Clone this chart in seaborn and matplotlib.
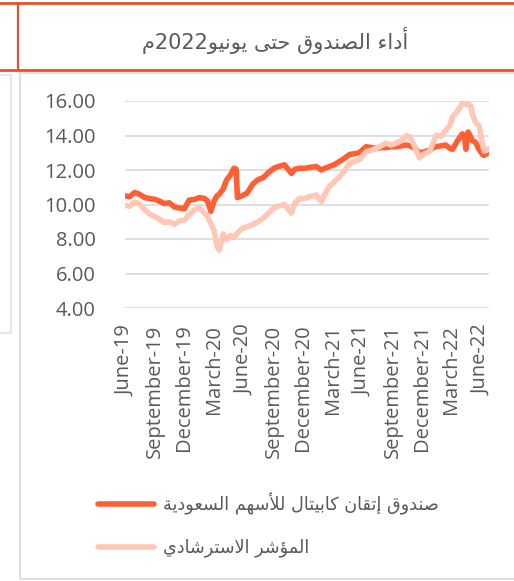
import re
import pandas as pd
import matplotlib
matplotlib.use("Agg")
import matplotlib.pyplot as plt
import matplotlib.dates as mdates
from matplotlib.lines import Line2D
from matplotlib.patches import Rectangle
import seaborn as sns

# values (NAV of fund vs benchmark)
dates = [
    "2019-06-01", "2019-06-15", "2019-07-01", "2019-07-15", "2019-08-01", "2019-08-15",
    "2019-09-01", "2019-09-15", "2019-10-01", "2019-10-15", "2019-11-01", "2019-11-15",
    "2019-12-01", "2019-12-15", "2020-01-01", "2020-01-15", "2020-02-01", "2020-02-10",
    "2020-02-20", "2020-03-01", "2020-03-10", "2020-03-17", "2020-03-29", "2020-04-08",
    "2020-04-20", "2020-05-01", "2020-05-08", "2020-05-12", "2020-05-25", "2020-06-10",
    "2020-06-29", "2020-07-15", "2020-07-30", "2020-08-15", "2020-09-01", "2020-09-15",
    "2020-10-04", "2020-10-25", "2020-11-05", "2020-11-19", "2020-12-05", "2020-12-20",
    "2021-01-10", "2021-01-25", "2021-02-05", "2021-02-19", "2021-03-05", "2021-03-22",
    "2021-04-08", "2021-04-22", "2021-05-08", "2021-05-22", "2021-06-12", "2021-06-28",
    "2021-07-13", "2021-07-28", "2021-08-12", "2021-08-28", "2021-09-12", "2021-09-28",
    "2021-10-13", "2021-10-25", "2021-11-05", "2021-11-23", "2021-12-08", "2021-12-23",
    "2022-01-05", "2022-01-13", "2022-01-28", "2022-02-12", "2022-02-25", "2022-03-05",
    "2022-03-20", "2022-04-04", "2022-04-10", "2022-04-15", "2022-04-22", "2022-04-30",
    "2022-05-05", "2022-05-15", "2022-05-25", "2022-06-05", "2022-06-10", "2022-06-18",
    "2022-06-25",
]
fund = [
    10.5, 10.45, 10.7, 10.6, 10.4, 10.35,
    10.3, 10.2, 10.05, 10.1, 9.85, 9.8,
    9.75, 10.25, 10.3, 10.4, 10.35, 10.2,
    9.6, 10.2, 10.5, 10.6, 10.9, 11.4,
    11.7, 12.1, 12.05, 10.4, 10.5, 10.65,
    11.2, 11.45, 11.55, 11.85, 12.1, 12.2,
    12.3, 11.8, 12.05, 12.1, 12.1, 12.15,
    12.2, 12.0, 12.1, 12.2, 12.3, 12.5,
    12.7, 12.9, 12.95, 13.0, 13.35, 13.3,
    13.25, 13.3, 13.3, 13.35, 13.35, 13.4,
    13.45, 13.4, 13.3, 13.0, 13.05, 13.15,
    13.3, 13.35, 13.4, 13.45, 13.25, 13.2,
    13.7, 14.1, 14.0, 13.2, 14.2, 13.9,
    13.7, 13.6, 13.2, 12.9, 12.85, 12.95,
    13.05,
]
benchmark = [
    9.95, 9.9, 10.15, 10.05, 9.7, 9.45,
    9.3, 9.15, 8.95, 9.0, 8.85, 9.05,
    9.1, 9.4, 9.7, 9.8, 9.5, 9.3,
    8.9, 8.5, 7.6, 7.35, 8.3, 7.95,
    8.2, 8.1, 8.25, 8.35, 8.6, 8.7,
    8.85, 9.0, 9.2, 9.5, 9.8, 9.9,
    10.0, 9.5, 10.1, 10.35, 10.35, 10.45,
    10.55, 10.15, 10.6, 11.05, 11.3, 11.6,
    12.0, 12.4, 12.5, 12.6, 13.05, 13.15,
    13.25, 13.4, 13.55, 13.45, 13.55, 13.7,
    14.0, 13.9, 13.5, 12.7, 12.95, 13.05,
    13.6, 14.0, 13.95, 14.3, 14.6, 15.1,
    15.4, 15.85, 15.9, 15.8, 15.85, 15.7,
    15.2, 14.75, 14.6, 13.5, 13.1, 13.15,
    13.25,
]

title_text = "أداء الصندوق حتى يونيو2022م"
fund_name = "صندوق إتقان كابيتال للأسهم السعودية"
bench_name = "المؤشر الاسترشادي"

# --- minimal arabic shaping (matplotlib has no RTL / joining support) ---
DUAL = {'ب': 0xFE8F, 'ت': 0xFE95, 'ح': 0xFEA1, 'س': 0xFEB1, 'ش': 0xFEB5, 'ص': 0xFEB9,
        'ع': 0xFEC9, 'ق': 0xFED5, 'ك': 0xFED9, 'ل': 0xFEDD, 'م': 0xFEE1, 'ن': 0xFEE5,
        'ه': 0xFEE9, 'ي': 0xFEF1}
RIGHT = {'أ': 0xFE83, 'ؤ': 0xFE85, 'إ': 0xFE87, 'ا': 0xFE8D, 'ة': 0xFE93, 'د': 0xFEA9,
         'ر': 0xFEAD, 'و': 0xFEED, 'ى': 0xFEEF}
NONE = {'ء': 0xFE80}
LAMALEF = {'ا': 0xFEFB, 'أ': 0xFEF7, 'إ': 0xFEF9}


def shape(text):
    out = []
    i = 0
    n = len(text)
    while i < n:
        c = text[i]
        joins_prev = i > 0 and text[i - 1] in DUAL
        nxt = text[i + 1] if i + 1 < n else ''
        if c == 'ل' and nxt in LAMALEF:
            out.append(chr(LAMALEF[nxt] + (1 if joins_prev else 0)))
            i += 2
            continue
        if c in DUAL:
            joins_next = nxt in DUAL or nxt in RIGHT
            if joins_prev and joins_next:
                form = 3
            elif joins_next:
                form = 2
            elif joins_prev:
                form = 1
            else:
                form = 0
            out.append(chr(DUAL[c] + form))
        elif c in RIGHT:
            out.append(chr(RIGHT[c] + (1 if joins_prev else 0)))
        elif c in NONE:
            out.append(chr(NONE[c]))
        else:
            out.append(c)
        i += 1
    vis = ''.join(out)[::-1]
    return re.sub(r'[0-9.]+', lambda m: m.group(0)[::-1], vis)


n = len(dates)
df = pd.DataFrame({
    'date': pd.to_datetime(dates * 2),
    'value': fund + benchmark,
    'series': [shape(fund_name)] * n + [shape(bench_name)] * n,
})

sns.set_style("white")
plt.rcParams['font.family'] = ['Open Sans', 'DejaVu Sans']

W, H = 514, 581
fig = plt.figure(figsize=(W / 100, H / 100), dpi=100)
ax = fig.add_axes([125 / W, 1 - 308 / H, 364 / W, 207 / H])

sns.lineplot(data=df, x='date', y='value', hue='series',
             palette=['#FF5F33', '#FFC8B6'], linewidth=4, ax=ax)
for ln in ax.lines:
    ln.set_solid_capstyle('round')
    ln.set_solid_joinstyle('round')

ax.set_ylim(4, 16)
ax.set_yticks([4, 6, 8, 10, 12, 14, 16])
ax.yaxis.set_major_formatter(matplotlib.ticker.FormatStrFormatter('%.2f'))
ax.set_xlim(pd.Timestamp('2019-06-01'), pd.Timestamp('2022-06-25'))
ax.xaxis.set_major_locator(mdates.MonthLocator(bymonth=[3, 6, 9, 12], bymonthday=1))
ax.xaxis.set_major_formatter(mdates.DateFormatter('%B-%y'))
ax.tick_params(axis='x', rotation=90, length=0, pad=12, labelsize=14.5, labelcolor='#595959')
ax.tick_params(axis='y', length=0, pad=21, labelsize=14.5, labelcolor='#595959')
ax.grid(axis='y', color='#D9D9D9', linewidth=1.2)
ax.grid(axis='x', visible=False)
ax.set_xlabel('')
ax.set_ylabel('')
sns.despine(ax=ax, left=True, bottom=True)

handles, labels = ax.get_legend_handles_labels()
ax.get_legend().remove()
fig.legend(handles, labels, loc='center left', bbox_to_anchor=(82 / W, 1 - 525 / H),
           frameon=False, labelcolor='#595959', handlelength=3.2,
           handletextpad=0.5, labelspacing=1.36, prop={'family': 'DejaVu Sans', 'size': 12.7})

# title
fig.text(275 / W, 1 - 40 / H, shape(title_text), ha='center', va='center',
         fontsize=15, color='#595959', family='DejaVu Sans')

# slide frame
orange = '#E8502A'
fig.add_artist(Line2D([0, 1], [1 - 2.5 / H] * 2, color=orange, lw=2, transform=fig.transFigure))
fig.add_artist(Line2D([0, 1], [1 - 70 / H] * 2, color=orange, lw=2, transform=fig.transFigure))
fig.add_artist(Line2D([18 / W] * 2, [1 - 2.5 / H, 1 - 70 / H], color=orange, lw=1.6,
                      transform=fig.transFigure))
fig.add_artist(Rectangle((20 / W, 1 - 579 / H), 600 / W, 506 / H, fill=False,
                         edgecolor='#D9D9D9', lw=1.2, transform=fig.transFigure))
fig.add_artist(Rectangle((-5 / W, 1 - 333 / H), 16 / W, 258 / H, fill=False,
                         edgecolor='#E3E3E3', lw=1.2, transform=fig.transFigure))

fig.savefig('out.png', dpi=100)
